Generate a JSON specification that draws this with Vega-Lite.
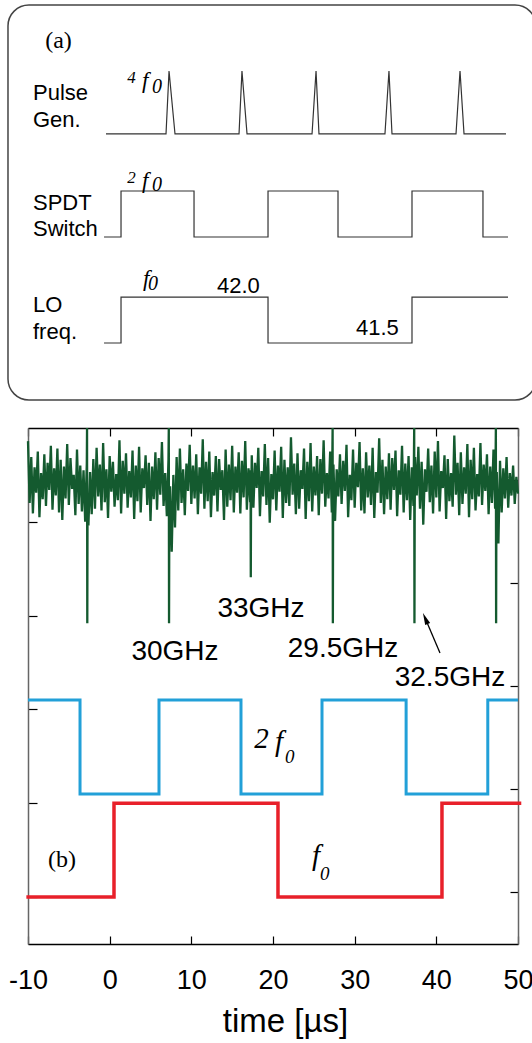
{
"$schema": "https://vega.github.io/schema/vega-lite/v6.json",
"width": 490, "height": 516,
"autosize": {"type": "none"},
"padding": {"left": 28, "top": 428, "right": 14, "bottom": 99},
"background": "white",
"config": {"view": {"stroke": null}},
"datasets": {
"noise": [
{"t":-10,"v":53.6},{"t":-9.8,"v":47.0},{"t":-9.6,"v":51.9},{"t":-9.4,"v":45.9},{"t":-9.2,"v":50.8},{"t":-9,"v":48.1},{"t":-8.8,"v":52.5},{"t":-8.6,"v":45.5},{"t":-8.4,"v":50.2},{"t":-8.2,"v":47.4},
{"t":-8,"v":52.2},{"t":-7.8,"v":46.7},{"t":-7.6,"v":51.3},{"t":-7.4,"v":48.4},{"t":-7.2,"v":53.1},{"t":-7,"v":46.3},{"t":-6.8,"v":50.7},{"t":-6.6,"v":47.8},{"t":-6.4,"v":52.8},{"t":-6.2,"v":46.0},
{"t":-6,"v":51.6},{"t":-5.8,"v":45.2},{"t":-5.6,"v":50.9},{"t":-5.4,"v":47.5},{"t":-5.2,"v":53.3},{"t":-5,"v":46.8},{"t":-4.8,"v":51.8},{"t":-4.6,"v":48.5},{"t":-4.4,"v":50.0},{"t":-4.2,"v":45.7},
{"t":-4,"v":52.7},{"t":-3.8,"v":46.9},{"t":-3.6,"v":51.0},{"t":-3.4,"v":46.1},{"t":-3.2,"v":50.5},{"t":-3,"v":45.0},{"t":-2.8,"v":51.2},{"t":-2.77,"v":55},{"t":-2.74,"v":34.2},{"t":-2.71,"v":46.5},{"t":-2.6,"v":44.6},{"t":-2.4,"v":50.3},{"t":-2.2,"v":45.8},
{"t":-2,"v":51.7},{"t":-1.8,"v":46.4},{"t":-1.6,"v":52.9},{"t":-1.4,"v":47.7},{"t":-1.2,"v":51.1},{"t":-1,"v":46.2},{"t":-0.8,"v":53.4},{"t":-0.6,"v":47.1},{"t":-0.4,"v":50.6},{"t":-0.2,"v":45.4},
{"t":0,"v":52.0},{"t":0.2,"v":48.2},{"t":0.4,"v":51.4},{"t":0.6,"v":46.6},{"t":0.8,"v":50.1},{"t":1,"v":47.3},{"t":1.2,"v":53.7},{"t":1.4,"v":45.9},{"t":1.6,"v":51.5},{"t":1.8,"v":48.0},
{"t":2,"v":52.3},{"t":2.2,"v":46.5},{"t":2.4,"v":50.4},{"t":2.6,"v":47.6},{"t":2.8,"v":52.6},{"t":3,"v":45.3},{"t":3.2,"v":51.0},{"t":3.4,"v":47.2},{"t":3.6,"v":53.0},{"t":3.8,"v":46.0},
{"t":4,"v":50.7},{"t":4.2,"v":48.6},{"t":4.4,"v":52.1},{"t":4.6,"v":46.8},{"t":4.8,"v":51.3},{"t":5,"v":45.1},{"t":5.2,"v":50.9},{"t":5.4,"v":47.4},{"t":5.6,"v":52.4},{"t":5.8,"v":46.3},
{"t":6,"v":51.8},{"t":6.2,"v":47.9},{"t":6.4,"v":53.5},{"t":6.6,"v":46.7},{"t":6.8,"v":50.2},{"t":7,"v":45.6},{"t":7.2,"v":51.6},{"t":7.24,"v":55},{"t":7.27,"v":34.2},{"t":7.3,"v":45.0},{"t":7.4,"v":48.8},{"t":7.6,"v":41.8},{"t":7.8,"v":50.0},
{"t":8,"v":44.4},{"t":8.2,"v":51.9},{"t":8.4,"v":46.2},{"t":8.6,"v":52.8},{"t":8.8,"v":47.0},{"t":9,"v":50.6},{"t":9.2,"v":45.7},{"t":9.4,"v":51.2},{"t":9.6,"v":48.3},{"t":9.8,"v":53.2},
{"t":10,"v":46.9},{"t":10.2,"v":51.0},{"t":10.4,"v":47.5},{"t":10.6,"v":52.2},{"t":10.8,"v":45.8},{"t":11,"v":50.8},{"t":11.2,"v":48.0},{"t":11.4,"v":53.8},{"t":11.6,"v":46.4},{"t":11.8,"v":51.4},
{"t":12,"v":47.2},{"t":12.2,"v":52.5},{"t":12.4,"v":45.5},{"t":12.6,"v":50.3},{"t":12.8,"v":47.8},{"t":13,"v":52.0},{"t":13.2,"v":46.1},{"t":13.4,"v":51.7},{"t":13.6,"v":48.4},{"t":13.8,"v":50.5},
{"t":14,"v":45.2},{"t":14.2,"v":52.7},{"t":14.4,"v":46.6},{"t":14.6,"v":51.1},{"t":14.8,"v":47.3},{"t":15,"v":53.1},{"t":15.2,"v":46.0},{"t":15.4,"v":50.9},{"t":15.6,"v":48.1},{"t":15.8,"v":52.4},
{"t":16,"v":45.9},{"t":16.2,"v":51.5},{"t":16.4,"v":47.6},{"t":16.6,"v":53.6},{"t":16.8,"v":46.3},{"t":17,"v":50.7},{"t":17.2,"v":47.1},{"t":17.25,"v":50.5},{"t":17.28,"v":39.1},{"t":17.31,"v":46.8},{"t":17.4,"v":52.1},{"t":17.6,"v":46.5},{"t":17.8,"v":51.3},
{"t":18,"v":48.6},{"t":18.2,"v":52.9},{"t":18.4,"v":45.6},{"t":18.6,"v":50.4},{"t":18.8,"v":47.7},{"t":19,"v":53.3},{"t":19.2,"v":46.8},{"t":19.4,"v":51.8},{"t":19.6,"v":44.9},{"t":19.8,"v":50.1},
{"t":20,"v":47.4},{"t":20.2,"v":52.6},{"t":20.4,"v":46.2},{"t":20.6,"v":51.0},{"t":20.8,"v":48.2},{"t":21,"v":53.0},{"t":21.2,"v":45.4},{"t":21.4,"v":51.6},{"t":21.6,"v":47.0},{"t":21.8,"v":50.8},
{"t":22,"v":46.7},{"t":22.2,"v":54.0},{"t":22.4,"v":47.9},{"t":22.6,"v":51.2},{"t":22.8,"v":45.8},{"t":23,"v":52.3},{"t":23.2,"v":46.4},{"t":23.4,"v":50.5},{"t":23.6,"v":48.5},{"t":23.8,"v":52.8},
{"t":24,"v":45.3},{"t":24.2,"v":51.4},{"t":24.4,"v":47.2},{"t":24.6,"v":53.4},{"t":24.8,"v":46.1},{"t":25,"v":50.9},{"t":25.2,"v":47.8},{"t":25.4,"v":52.0},{"t":25.6,"v":45.7},{"t":25.8,"v":51.7},
{"t":26,"v":48.0},{"t":26.2,"v":53.7},{"t":26.4,"v":46.6},{"t":26.6,"v":50.2},{"t":26.8,"v":47.5},{"t":27,"v":52.5},{"t":27.2,"v":46.0},{"t":27.3,"v":55},{"t":27.33,"v":34.2},{"t":27.36,"v":46.4},{"t":27.4,"v":51.1},{"t":27.6,"v":45.1},{"t":27.8,"v":50.6},
{"t":28,"v":47.7},{"t":28.2,"v":52.2},{"t":28.4,"v":46.9},{"t":28.6,"v":51.5},{"t":28.8,"v":48.3},{"t":29,"v":53.2},{"t":29.2,"v":45.5},{"t":29.4,"v":50.0},{"t":29.6,"v":47.3},{"t":29.8,"v":52.7},
{"t":30,"v":46.5},{"t":30.2,"v":51.3},{"t":30.4,"v":48.7},{"t":30.6,"v":53.5},{"t":30.8,"v":46.2},{"t":31,"v":50.7},{"t":31.2,"v":45.9},{"t":31.4,"v":52.4},{"t":31.6,"v":47.6},{"t":31.8,"v":51.0},
{"t":32,"v":46.8},{"t":32.2,"v":52.9},{"t":32.4,"v":45.4},{"t":32.6,"v":50.3},{"t":32.8,"v":48.1},{"t":33,"v":53.9},{"t":33.2,"v":47.0},{"t":33.4,"v":51.6},{"t":33.6,"v":45.8},{"t":33.8,"v":50.9},
{"t":34,"v":47.4},{"t":34.2,"v":52.3},{"t":34.4,"v":46.3},{"t":34.6,"v":51.8},{"t":34.8,"v":48.4},{"t":35,"v":52.6},{"t":35.2,"v":45.6},{"t":35.4,"v":50.5},{"t":35.6,"v":47.9},{"t":35.8,"v":53.1},
{"t":36,"v":46.0},{"t":36.2,"v":51.2},{"t":36.4,"v":47.3},{"t":36.6,"v":52.0},{"t":36.8,"v":45.2},{"t":37,"v":50.8},{"t":37.2,"v":46.7},{"t":37.29,"v":55},{"t":37.32,"v":34.2},{"t":37.35,"v":46.0},{"t":37.4,"v":51.9},{"t":37.6,"v":47.8},{"t":37.8,"v":53.0},
{"t":38,"v":46.4},{"t":38.2,"v":51.4},{"t":38.4,"v":44.7},{"t":38.6,"v":50.6},{"t":38.8,"v":48.2},{"t":39,"v":52.8},{"t":39.2,"v":47.1},{"t":39.4,"v":51.0},{"t":39.6,"v":45.9},{"t":39.8,"v":52.5},
{"t":40,"v":47.6},{"t":40.2,"v":53.6},{"t":40.4,"v":46.1},{"t":40.6,"v":50.4},{"t":40.8,"v":48.6},{"t":41,"v":52.1},{"t":41.2,"v":45.3},{"t":41.4,"v":51.7},{"t":41.6,"v":47.2},{"t":41.8,"v":50.2},
{"t":42,"v":46.6},{"t":42.2,"v":54.2},{"t":42.4,"v":47.9},{"t":42.6,"v":51.3},{"t":42.8,"v":45.7},{"t":43,"v":52.4},{"t":43.2,"v":46.9},{"t":43.4,"v":50.8},{"t":43.6,"v":48.0},{"t":43.8,"v":53.3},
{"t":44,"v":45.5},{"t":44.2,"v":51.6},{"t":44.4,"v":47.4},{"t":44.6,"v":52.9},{"t":44.8,"v":46.2},{"t":45,"v":50.1},{"t":45.2,"v":47.7},{"t":45.4,"v":53.4},{"t":45.6,"v":46.8},{"t":45.8,"v":51.1},
{"t":46,"v":48.3},{"t":46.2,"v":52.2},{"t":46.4,"v":45.8},{"t":46.6,"v":50.9},{"t":46.8,"v":47.0},{"t":47,"v":52.7},{"t":47.2,"v":46.4},{"t":47.29,"v":55},{"t":47.32,"v":34.2},{"t":47.35,"v":45.5},{"t":47.4,"v":50.3},{"t":47.6,"v":42.7},{"t":47.8,"v":51.5},
{"t":48,"v":46.0},{"t":48.2,"v":50.7},{"t":48.4,"v":47.5},{"t":48.6,"v":51.9},{"t":48.8,"v":46.5},{"t":49,"v":50.2},{"t":49.2,"v":47.8},{"t":49.4,"v":51.0},{"t":49.6,"v":46.9},{"t":49.8,"v":49.8},{"t":50,"v":48.0}
]
},
"layer": [
{
"data": {"values": [{"t":-10.2,"v":5},{"t":0.53,"v":15},{"t":20.61,"v":5},{"t":40.69,"v":15},{"t":50.4,"v":15}]},
"mark": {"type": "line", "interpolate": "step-after", "color": "#e8202a", "strokeWidth": 3.5},
"encoding": {
"x": {"field": "t", "type": "quantitative", "scale": {"domain": [-10, 50], "nice": false},
"axis": {"orient": "bottom", "values": [-10,0,10,20,30,40,50], "tickSize": -8, "tickColor": "#000", "tickWidth": 1.2, "domainColor": "#000", "domainWidth": 1.5, "labelFont": "Liberation Sans", "labelFontSize": 27, "labelColor": "#000", "labelBaseline": "alphabetic", "labelPadding": 52, "labelFlush": false, "labelOverlap": false, "labelExpr": "'' + datum.value", "grid": false, "title": "time [µs]", "titleFont": "Liberation Sans", "titleFontSize": 33, "titleFontWeight": "normal", "titleColor": "#000", "titlePadding": 12, "titleX": 257}},
"y": {"field": "v", "type": "quantitative", "scale": {"domain": [0, 55], "nice": false},
"axis": {"orient": "left", "values": [5,15,25,35,45], "tickSize": -9, "tickColor": "#000", "tickWidth": 1.2, "domainColor": "#666", "domainWidth": 1.5, "labels": false, "grid": false, "title": null}}
}
},
{
"data": {"values": [{"t":-10,"v":26},{"t":-3.63,"v":16},{"t":6.04,"v":26},{"t":16.08,"v":16},{"t":26.0,"v":26},{"t":36.3,"v":16},{"t":46.3,"v":26},{"t":50,"v":26}]},
"mark": {"type": "line", "interpolate": "step-after", "color": "#22a0d8", "strokeWidth": 3},
"encoding": {
"x": {"field": "t", "type": "quantitative", "scale": {"domain": [-10, 50], "nice": false},
"axis": {"orient": "top", "values": [-10,0,10,20,30,40,50], "tickSize": -8, "tickColor": "#000", "tickWidth": 1.2, "domainColor": "#000", "domainWidth": 1.5, "labels": false, "grid": false, "title": null}},
"y": {"field": "v", "type": "quantitative", "scale": {"domain": [0, 55], "nice": false},
"axis": {"orient": "right", "values": [5.5,16.5,27.5,38.5,49.5], "tickSize": -8, "tickColor": "#000", "tickWidth": 1.2, "domainColor": "#666", "domainWidth": 1.5, "labels": false, "grid": false, "title": null}}
}
},
{
"data": {"name": "noise"},
"mark": {"type": "line", "color": "#145a2f", "strokeWidth": 2.3},
"encoding": {
"x": {"field": "t", "type": "quantitative", "scale": {"domain": [-10, 50], "nice": false}, "axis": null},
"y": {"field": "v", "type": "quantitative", "scale": {"domain": [0, 55], "nice": false}, "axis": null}
}
},
{
"data": {"values": [{"t":-12.45,"v":100.09,"t2":52.2,"v2":57.98}]},
"mark": {"type": "rect", "fillOpacity": 0, "stroke": "#444", "strokeWidth": 1.5, "cornerRadius": 21},
"encoding": {
"x": {"field": "t", "type": "quantitative", "scale": {"domain": [-10, 50], "nice": false}, "axis": null},
"x2": {"field": "t2"},
"y": {"field": "v", "type": "quantitative", "scale": {"domain": [0, 55], "nice": false}, "axis": null},
"y2": {"field": "v2"}
}
},
{
"data": {"values": [{"t":-0.45,"v":86.34},{"t":6.9,"v":86.34},{"t":7.27,"v":93.05},{"t":8.0,"v":86.34},{"t":15.84,"v":86.34},{"t":16.2,"v":93.05},{"t":16.82,"v":86.34},{"t":24.78,"v":86.34},{"t":25.27,"v":93.05},{"t":25.63,"v":86.34},{"t":33.71,"v":86.34},{"t":34.2,"v":93.05},{"t":34.57,"v":86.34},{"t":42.41,"v":86.34},{"t":42.9,"v":93.05},{"t":43.39,"v":86.34},{"t":48.53,"v":86.34}]},
"mark": {"type": "line", "color": "#333", "strokeWidth": 1.2},
"encoding": {
"x": {"field": "t", "type": "quantitative", "scale": {"domain": [-10, 50], "nice": false}, "axis": null},
"y": {"field": "v", "type": "quantitative", "scale": {"domain": [0, 55], "nice": false}, "axis": null}
}
},
{
"data": {"values": [
{"s":"SPDT","t":-0.69,"v":75.36},{"s":"SPDT","t":1.39,"v":80.26},{"s":"SPDT","t":10.33,"v":75.36},{"s":"SPDT","t":19.39,"v":80.26},{"s":"SPDT","t":27.96,"v":75.36},{"s":"SPDT","t":37.02,"v":80.26},{"s":"SPDT","t":45.71,"v":75.36},{"s":"SPDT","t":48.78,"v":75.36},
{"s":"LO","t":-0.69,"v":64.06},{"s":"LO","t":1.39,"v":68.96},{"s":"LO","t":19.39,"v":64.06},{"s":"LO","t":37.02,"v":68.96},{"s":"LO","t":48.78,"v":68.96}
]},
"mark": {"type": "line", "interpolate": "step-after", "color": "#333", "strokeWidth": 1.2},
"encoding": {
"x": {"field": "t", "type": "quantitative", "scale": {"domain": [-10, 50], "nice": false}, "axis": null},
"y": {"field": "v", "type": "quantitative", "scale": {"domain": [0, 55], "nice": false}, "axis": null},
"detail": {"field": "s"}
}
},
{
"data": {"values": [{"t":40.45,"v":31.02,"t2":38.65,"v2":34.7}]},
"mark": {"type": "rule", "color": "#000", "strokeWidth": 1.3},
"encoding": {
"x": {"field": "t", "type": "quantitative", "scale": {"domain": [-10, 50], "nice": false}, "axis": null},
"x2": {"field": "t2"},
"y": {"field": "v", "type": "quantitative", "scale": {"domain": [0, 55], "nice": false}, "axis": null},
"y2": {"field": "v2"}
}
},
{
"data": {"values": [{"t":38.65,"v":34.7}]},
"mark": {"type": "point", "shape": "M0,-1L0.45,1L-0.45,1Z", "filled": true, "color": "#000", "size": 144, "angle": 337, "opacity": 1},
"encoding": {
"x": {"field": "t", "type": "quantitative", "scale": {"domain": [-10, 50], "nice": false}, "axis": null},
"y": {"field": "v", "type": "quantitative", "scale": {"domain": [0, 55], "nice": false}, "axis": null}
}
},
{
"data": {"values": [{"t":-9.39,"v":89.96,"s":"Pulse"},{"t":-9.39,"v":87.08,"s":"Gen."},{"t":-9.39,"v":78.24,"s":"SPDT"},{"t":-9.39,"v":75.47,"s":"Switch"},{"t":-9.39,"v":67.36,"s":"LO"},{"t":-9.39,"v":64.49,"s":"freq."},{"t":13.14,"v":69.39,"s":"42.0"},{"t":30.16,"v":64.91,"s":"41.5"}]},
"mark": {"type": "text", "font": "Liberation Sans", "fontSize": 22, "align": "left", "baseline": "alphabetic", "color": "#000"},
"encoding": {
"x": {"field": "t", "type": "quantitative", "scale": {"domain": [-10, 50], "nice": false}, "axis": null},
"y": {"field": "v", "type": "quantitative", "scale": {"domain": [0, 55], "nice": false}, "axis": null},
"text": {"field": "s"}
}
},
{
"data": {"values": [{"t":2.14,"v":91.77,"s":"4"},{"t":2.14,"v":81.11,"s":"2"}]},
"mark": {"type": "text", "font": "Liberation Serif", "fontStyle": "italic", "fontSize": 17, "align": "left", "baseline": "alphabetic", "color": "#000"},
"encoding": {
"x": {"field": "t", "type": "quantitative", "scale": {"domain": [-10, 50], "nice": false}, "axis": null},
"y": {"field": "v", "type": "quantitative", "scale": {"domain": [0, 55], "nice": false}, "axis": null},
"text": {"field": "s"}
}
},
{
"data": {"values": [{"t":3.96,"v":91.24,"s":"f"},{"t":3.96,"v":80.58,"s":"f"},{"t":4.08,"v":70.14,"s":"f"}]},
"mark": {"type": "text", "font": "Liberation Serif", "fontStyle": "italic", "fontSize": 23, "align": "left", "baseline": "alphabetic", "color": "#000"},
"encoding": {
"x": {"field": "t", "type": "quantitative", "scale": {"domain": [-10, 50], "nice": false}, "axis": null},
"y": {"field": "v", "type": "quantitative", "scale": {"domain": [0, 55], "nice": false}, "axis": null},
"text": {"field": "s"}
}
},
{
"data": {"values": [{"t":5.18,"v":90.71,"s":"0"},{"t":5.18,"v":80.26,"s":"0"},{"t":4.69,"v":69.71,"s":"0"}]},
"mark": {"type": "text", "font": "Liberation Serif", "fontStyle": "italic", "fontSize": 20, "align": "left", "baseline": "alphabetic", "color": "#000"},
"encoding": {
"x": {"field": "t", "type": "quantitative", "scale": {"domain": [-10, 50], "nice": false}, "axis": null},
"y": {"field": "v", "type": "quantitative", "scale": {"domain": [0, 55], "nice": false}, "axis": null},
"text": {"field": "s"}
}
},
{
"data": {"values": [{"t":-6.27,"v":95.5,"s":"(a)"},{"t":-5.83,"v":8.21,"s":"(b)"}]},
"mark": {"type": "text", "font": "Liberation Serif", "fontSize": 24, "align": "center", "baseline": "alphabetic", "color": "#000"},
"encoding": {
"x": {"field": "t", "type": "quantitative", "scale": {"domain": [-10, 50], "nice": false}, "axis": null},
"y": {"field": "v", "type": "quantitative", "scale": {"domain": [0, 55], "nice": false}, "axis": null},
"text": {"field": "s"}
}
},
{
"data": {"values": [{"t":18.53,"v":34.85,"s":"33GHz"},{"t":8.0,"v":30.27,"s":"30GHz"},{"t":28.57,"v":30.59,"s":"29.5GHz"},{"t":41.67,"v":27.5,"s":"32.5GHz"}]},
"mark": {"type": "text", "font": "Liberation Sans", "fontSize": 28, "align": "center", "baseline": "alphabetic", "color": "#000"},
"encoding": {
"x": {"field": "t", "type": "quantitative", "scale": {"domain": [-10, 50], "nice": false}, "axis": null},
"y": {"field": "v", "type": "quantitative", "scale": {"domain": [0, 55], "nice": false}, "axis": null},
"text": {"field": "s"}
}
},
{
"data": {"values": [{"t":17.71,"v":20.89,"s":"2"},{"t":20.25,"v":20.57,"s":"f"},{"t":24.78,"v":8.42,"s":"f"}]},
"mark": {"type": "text", "font": "Liberation Serif", "fontStyle": "italic", "fontSize": 29, "align": "left", "baseline": "alphabetic", "color": "#000"},
"encoding": {
"x": {"field": "t", "type": "quantitative", "scale": {"domain": [-10, 50], "nice": false}, "axis": null},
"y": {"field": "v", "type": "quantitative", "scale": {"domain": [0, 55], "nice": false}, "axis": null},
"text": {"field": "s"}
}
},
{
"data": {"values": [{"t":21.47,"v":19.29,"s":"0"},{"t":25.76,"v":6.82,"s":"0"}]},
"mark": {"type": "text", "font": "Liberation Serif", "fontStyle": "italic", "fontSize": 19, "align": "left", "baseline": "alphabetic", "color": "#000"},
"encoding": {
"x": {"field": "t", "type": "quantitative", "scale": {"domain": [-10, 50], "nice": false}, "axis": null},
"y": {"field": "v", "type": "quantitative", "scale": {"domain": [0, 55], "nice": false}, "axis": null},
"text": {"field": "s"}
}
}
],
"resolve": {"axis": {"x": "independent", "y": "independent"}}
}
